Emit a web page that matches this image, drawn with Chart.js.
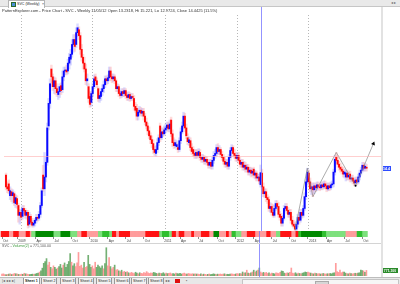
<!DOCTYPE html>
<html><head><meta charset="utf-8">
<script src="https://cdn.jsdelivr.net/npm/chart.js@4.4.1/dist/chart.umd.min.js"></script>
<style>
html,body{margin:0;padding:0;background:#fff;width:400px;height:284px;overflow:hidden;font-family:"Liberation Sans",Arial,sans-serif;}
.abs{position:absolute;}
#tabbar{left:0;top:0;width:400px;height:7px;background:#e9e9e9;border-bottom:1px solid #c6c6c6;box-sizing:border-box;}
#tab{left:8px;top:0;width:37px;height:8px;background:#fff;border:1px solid #b5b5b5;border-bottom:none;box-sizing:border-box;font-size:3.6px;line-height:6px;color:#222;white-space:nowrap;z-index:4;}
#tab .ic{display:inline-block;width:3px;height:3px;margin:0 1px 0 2px;background:#4a8fd8;border:0.5px solid #2a6a2a;vertical-align:middle;}
#tab .x{position:absolute;left:33px;top:0;color:#333;}
#tr{left:391px;top:0;font-size:3.6px;line-height:6px;color:#666;}
#title{left:2px;top:9px;font-size:4px;line-height:4.5px;color:#333;white-space:nowrap;z-index:5;}
canvas{position:absolute;left:0;}
#price{top:7px;z-index:1;}
#strip{top:231px;z-index:2;}
#sep{left:0;top:243px;width:381px;height:0;border-top:1px solid #d4d4d4;z-index:3;}
#vol{top:244px;z-index:2;}
#vlabel{left:2px;top:244px;font-size:3.6px;line-height:4.5px;color:#555;white-space:nowrap;z-index:5;}
#rborder{left:381px;top:7px;width:2px;height:270px;background:#e2e2e2;z-index:3;}
#bottom{left:0;top:277px;width:400px;height:7px;background:#e8e8e8;border-top:1px solid #bdbdbd;box-sizing:border-box;font-size:3.6px;line-height:6px;color:#222;z-index:6;}
#bottom span{position:absolute;top:0;white-space:nowrap;}
#bottom .sh{border-left:0.5px solid #999;border-right:0.5px solid #999;padding:0 1px;background:#f2f2f2;}
#bottom .act{background:#fff;font-weight:bold;}
#scroll{position:absolute;left:242px;top:1px;width:155px;height:4px;background:#f6f6f6;border:0.5px solid #c4c4c4;}
#thumb{position:absolute;left:72px;top:0.5px;width:12px;height:3px;background:#d6d6d6;border:0.5px solid #aaa;}
</style></head>
<body>
<div id="tabbar" class="abs"></div>
<div id="tab" class="abs"><span class="ic"></span>SVC (Weekly)<span class="x">×</span></div>
<div id="tr" class="abs">◂ ▸</div>
<div id="title" class="abs">PatternExplorer.com - Price Chart - SVC - Weekly 11/05/12 Open 13.2318, Hi 15.221, Lo 12.9724, Close 14.4425 (11.5%)</div>
<canvas id="price" width="400" height="230"></canvas>
<canvas id="strip" width="400" height="12"></canvas>
<div id="sep" class="abs"></div>
<canvas id="vol" width="400" height="33"></canvas>
<div id="vlabel" class="abs">SVC - <span style="color:#3c9a3c">Volume(2)</span> = 771,100.00</div>
<div id="rborder" class="abs"></div>
<div id="bottom" class="abs">
  <span style="left:2px;color:#555">|◂ ◂ ▸ ▸|</span>
  <span class="sh act" style="left:23px">Sheet 1</span>
  <span class="sh" style="left:41px">Sheet 2</span>
  <span class="sh" style="left:60px">Sheet 3</span>
  <span class="sh" style="left:78px">Sheet 4</span>
  <span class="sh" style="left:96px">Sheet 5</span>
  <span class="sh" style="left:114px">Sheet 6</span>
  <span class="sh" style="left:131px">Sheet 7</span>
  <span class="sh" style="left:148px">Sheet 8</span>
  <span style="left:165px;color:#555">◂ ▸</span>
  <span style="left:175px;top:1px;width:5px;height:4px;background:#e01010;"></span>
  <span style="left:186px;color:#555">▪</span>
  <div id="scroll"><div id="thumb"></div></div>
</div>
<script>
// ---- data (weekly bars, first bar 2008-10-17) ----
const firstBarDate = '2008-10-17';
const tickDates = ['2008-10-01','2009-01-01','2009-04-01','2009-07-01','2009-10-01','2010-01-01','2010-04-01','2010-07-01','2010-10-01','2011-01-01','2011-04-01','2011-07-01','2011-10-01','2012-01-01','2012-04-01','2012-07-01','2012-10-01','2013-01-01','2013-04-01','2013-07-01','2013-10-01'];
const tickLabels = ['Oct','2009','Apr','Jul','Oct','2010','Apr','Jul','Oct','2011','Apr','Jul','Oct','2012','Apr','Jul','Oct','2013','Apr','Jul','Oct'];

const opens = [
14.2,13.0,13.3,12.1,12.5,12.1,12.3,11.3,11.8,11.1,
10.1,10.4,10.0,10.8,10.6,10.1,10.4,9.2,10.0,9.4,
9.1,9.3,9.6,9.9,9.8,10.2,11.1,14.2,12.8,14.0,
15.5,19.2,21.5,25.0,24.2,23.2,23.8,23.0,22.4,22.7,
23.3,22.9,24.2,24.8,24.9,24.8,25.6,26.0,26.5,27.5,
28.0,27.5,28.7,29.0,28.4,27.0,26.2,25.6,25.0,23.8,
23.2,22.2,21.6,22.5,23.2,24.2,23.8,23.0,22.0,22.2,
22.7,23.0,23.4,24.0,23.8,24.1,24.8,24.2,24.0,24.2,
23.8,23.0,23.2,22.5,22.3,22.7,22.5,22.8,22.3,22.1,
22.4,22.0,22.2,22.0,21.2,21.0,20.2,20.6,20.8,20.5,
20.7,20.2,19.6,19.2,18.7,18.2,17.8,17.4,16.8,16.4,
16.8,17.5,19.2,18.0,18.6,18.4,18.8,19.0,19.3,18.9,
19.8,18.4,17.5,17.2,
17.1,17.0,16.8,17.7,18.6,19.2,
20.2,19.0,18.0,17.5,17.7,17.0,16.8,16.4,16.2,16.5,
16.2,16.5,16.0,15.8,16.0,15.6,15.8,15.5,15.2,15.5,
15.1,15.7,16.2,16.4,17.0,16.6,16.8,16.3,16.0,15.6,
15.3,15.5,15.1,16.0,16.7,17.0,16.4,16.2,15.9,16.2,
15.7,15.3,15.5,15.0,15.2,14.8,15.0,14.5,14.7,14.4,
14.8,14.2,14.4,13.9,14.0,13.2318,14.4,13.0,12.3,12.5,
11.9,11.7,10.8,11.0,10.4,10.1,10.8,11.3,11.0,10.2,
10.0,9.3,9.8,10.8,11.0,10.6,10.2,10.4,9.6,9.2,
9.0,8.7,9.2,9.9,9.6,10.4,10.1,10.8,12.0,13.5,
14.4,13.5,12.8,13.0,12.7,13.1,12.9,13.2,13.0,12.9,
13.2,13.0,13.3,13.1,12.8,13.1,12.9,13.2,13.3,14.5,
16.0,15.7,15.3,15.0,14.8,14.6,14.3,14.0,14.4,14.0,
14.3,13.8,13.9,13.6,13.4,13.7,13.5,14.0,14.4,14.7,
15.2,14.9,15.0];

const highs = [
14.4,13.5,13.7,13.0,12.8,12.7,12.5,12.2,12.1,11.3,
10.7,10.6,11.1,11.1,10.8,10.6,10.6,10.4,10.2,9.8,
9.6,9.8,10.2,10.2,10.5,11.4,12.9,15.2,16.5,16.0,
19.5,22.0,24.0,25.4,24.5,24.2,24.1,23.5,23.2,23.5,
23.6,24.8,25.2,25.2,25.4,26.0,26.6,27.0,28.0,28.5,
28.5,29.2,29.6,29.3,28.7,27.5,26.5,26.2,25.5,24.5,
23.5,22.7,22.7,23.6,24.4,24.5,24.1,23.2,22.5,23.0,
23.4,23.8,24.3,24.3,24.4,25.2,25.2,24.5,24.5,24.4,
24.0,23.5,23.4,22.8,23.0,23.0,23.1,23.0,22.6,22.7,
22.6,22.5,22.5,22.3,21.6,21.4,21.0,21.2,21.1,21.0,
21.0,20.5,20.0,19.5,19.1,18.5,18.2,17.8,17.1,17.2,
17.9,18.3,19.5,19.0,19.0,19.2,19.4,19.6,19.6,19.8,
20.1,18.8,18.0,17.8,
17.7,17.4,18.0,19.0,19.6,20.6,
20.5,19.4,18.4,18.1,18.0,17.4,17.1,16.8,16.8,16.8,
16.9,16.8,16.3,16.3,16.2,16.1,16.1,15.8,15.8,15.8,
16.0,16.6,16.8,17.3,17.4,17.2,17.0,16.6,16.3,16.0,
15.8,15.8,16.3,17.0,17.3,17.2,16.8,16.5,16.5,16.5,
16.0,15.8,15.8,15.6,15.5,15.3,15.3,15.0,15.0,14.9,
15.0,14.7,14.6,14.3,14.3,15.221,14.8,13.4,12.8,12.8,
12.2,12.0,11.4,11.3,11.2,11.1,11.6,11.6,11.4,10.5,
10.3,10.1,11.1,11.3,11.3,10.9,10.7,10.7,10.0,9.6,
9.4,9.5,10.2,10.4,10.7,10.7,11.1,12.4,13.8,14.9,
14.7,13.9,13.4,13.4,13.4,13.4,13.5,13.5,13.3,13.5,
13.5,13.6,13.6,13.4,13.4,13.4,13.5,13.6,14.8,16.2,
16.5,16.2,15.6,15.4,15.1,15.0,14.8,14.7,14.7,14.5,
14.6,14.2,14.2,13.9,14.0,14.0,14.3,14.7,15.0,15.5,
15.5,15.4,15.3];

const lows = [
12.7,12.4,12.3,11.7,11.5,11.3,11.1,10.9,10.8,9.4,
9.2,9.6,9.7,10.3,9.8,9.7,8.8,8.9,9.1,8.9,
8.9,9.0,9.3,9.5,9.6,9.9,10.9,12.5,12.1,13.5,
15.2,18.8,21.0,23.6,22.8,22.5,22.4,22.2,21.9,22.1,
22.4,22.6,23.8,24.4,24.4,24.5,25.0,25.4,26.2,26.7,
26.8,27.2,28.3,28.0,26.5,25.8,25.0,24.7,23.4,23.3,
21.6,21.1,21.2,22.2,23.0,23.4,23.1,21.7,21.6,21.8,
22.3,22.6,23.1,23.4,23.5,23.8,23.8,23.6,23.7,23.5,
22.7,22.7,22.2,22.0,22.1,22.2,22.2,22.0,21.8,21.8,
21.7,21.8,21.8,20.8,20.6,19.8,19.8,20.3,20.2,20.2,
19.8,19.3,18.9,18.3,17.9,17.4,17.0,16.4,16.2,16.1,
16.5,17.2,17.6,17.8,18.1,18.2,18.5,18.7,18.6,18.6,
18.1,17.1,16.9,17.0,
16.8,16.5,16.6,17.4,18.4,18.9,
18.6,17.9,17.3,17.2,16.7,16.3,16.1,15.9,15.9,15.9,
16.0,15.7,15.5,15.5,15.3,15.3,15.2,14.9,14.9,14.8,
14.8,15.4,15.9,16.1,16.3,16.3,16.0,15.7,15.3,15.0,
15.0,14.8,14.8,15.7,16.4,16.1,15.9,15.6,15.6,15.4,
15.0,15.0,14.7,14.7,14.5,14.5,14.2,14.2,14.0,14.1,
13.9,13.8,13.6,13.6,13.3,12.9724,12.7,12.0,11.9,11.5,
11.3,10.5,10.4,10.1,9.9,9.9,10.6,10.7,9.9,9.6,
9.0,9.0,9.6,10.5,10.3,9.9,9.9,9.3,9.0,8.8,
8.5,8.5,8.9,9.2,9.4,9.8,9.9,10.6,11.7,13.2,
13.0,12.5,12.2,12.0,12.3,12.5,12.6,12.7,12.6,12.7,
12.7,12.8,12.8,12.5,12.6,12.6,12.7,12.9,13.0,14.2,
15.4,15.0,14.7,14.5,14.3,14.0,13.9,13.6,13.7,13.7,
13.5,13.5,13.3,13.1,13.1,13.2,13.3,13.7,14.2,14.5,
14.6,14.6,14.6];

const closes = [
13.0,12.8,12.6,12.6,12.1,12.4,11.4,11.9,11.2,10.1,
10.4,9.9,10.8,10.6,10.1,10.4,9.1,10.0,9.4,9.1,
9.3,9.6,9.9,9.8,10.2,11.1,12.6,12.8,14.0,15.5,
19.0,21.5,23.5,24.2,23.2,23.8,23.0,22.6,22.7,23.2,
22.8,24.2,24.8,24.9,24.7,25.6,26.2,26.5,27.5,28.0,
27.3,28.7,29.2,28.4,27.0,26.2,25.6,25.0,23.8,24.0,
22.0,21.4,22.5,23.2,24.0,23.8,23.4,22.0,22.3,22.7,
23.0,23.4,24.0,23.8,24.1,24.8,24.2,24.0,24.2,23.8,
23.0,23.2,22.5,22.3,22.7,22.5,22.8,22.3,22.1,22.4,
22.0,22.2,22.1,21.2,20.8,20.2,20.6,20.8,20.5,20.7,
20.2,19.6,19.2,18.7,18.2,17.8,17.4,16.8,16.5,16.8,
17.5,18.0,18.0,18.6,18.4,18.8,19.0,19.3,18.9,19.4,
18.4,17.5,17.2,17.5,
17.3,16.8,17.7,18.6,19.2,20.2,
19.0,18.2,17.6,17.8,17.0,16.6,16.4,16.2,16.5,16.2,
16.6,16.0,15.8,16.0,15.6,15.8,15.5,15.2,15.5,15.1,
15.7,16.2,16.4,17.0,16.6,16.8,16.3,16.0,15.6,15.3,
15.5,15.1,16.0,16.7,17.0,16.4,16.2,15.9,16.2,15.7,
15.3,15.5,15.0,15.2,14.8,15.0,14.5,14.7,14.4,14.6,
14.2,14.4,13.9,14.0,13.6,14.4425,13.0,12.3,12.5,11.9,
11.7,10.8,11.0,10.4,10.1,10.8,11.3,11.0,10.2,9.9,
9.3,9.8,10.8,11.0,10.6,10.2,10.4,9.6,9.2,9.0,
8.7,9.2,9.9,9.6,10.4,10.1,10.8,12.0,13.5,14.5,
13.5,12.8,13.0,12.7,13.1,12.9,13.2,13.0,12.9,13.2,
13.0,13.3,13.1,12.8,13.1,12.9,13.2,13.3,14.5,15.8,
15.7,15.3,15.0,14.8,14.6,14.3,14.5,14.4,14.0,14.2,
13.8,13.9,13.6,13.4,13.7,13.5,14.0,14.4,14.7,15.2,
14.9,15.1,14.9];

// weekly volume, thousands of shares
const volumes = [
250,300,200,180,220,260,300,200,250,350,300,280,220,200,260,240,380,300,250,220,200,230,260,240,280,350,
400,540,700,1080,1750,2000,2400,
1500,1900,1200,1000,1400,1200,950,1100,1300,1600,1100,1500,1800,1200,1600,2000,3100,1900,1400,1700,1300,1800,3250,1350,1500,1100,1900,1200,1300,2850,1600,1200,1400,1000,1900,1200,1500,1300,1100,1400,1000,1700,3900,1400,2550,1300,1000,1200,1500,800,900,700,600,800,550,650,500,600,
450,380,500,420,350,520,400,300,450,380,330,480,400,600,450,350,420,380,500,450,360,300,420,380,350,450,300,400,330,380,420,300,350,280,400,330,300,360,280,320,400,300,260,350,300,280,320,250,300,270,
250,220,300,200,260,230,180,240,280,200,220,300,250,200,260,230,280,220,250,300,200,240,220,260,300,250,230,280,320,300,
350,300,550,400,450,800,400,350,
450,550,800,550,700,800,1100,550,400,500,400,500,
350,450,300,400,350,300,450,400,350,500,700,650,400,350,450,400,500,
1100,
400,350,450,300,400,350,300,400,450,550,500,550,450,400,350,300,400,350,300,350,280,300,350,300,280,320,300,350,300,400,450,
1750,
600,500,800,450,550,550,400,350,300,400,350,300,330,380,350,400,450,800,750,700,500,771.1];

// trend strip: segment start week and state (3 dark green .. -2 red)
const stripStarts = [0,6,9,13,18,21,22,25,38,43,50,55,58,62,70,73,78,80,83,85,93,104,114,116,121,123,126,128,132,137,139,144,150,153,157,162,164,166,169,173,177,183,191,194,198,201,209,212,214,216,231,234,248,256,260];
const stripStates = [-2,-1,-2,-1,-2,-1,1,3,1,3,1,-1,-2,-1,1,2,1,-2,-1,-2,-1,-2,1,2,1,-2,-1,-2,-1,-2,-1,-2,-1,3,-1,-2,-1,2,1,-1,-2,-1,-2,-1,1,-2,-1,-2,2,3,2,1,-1,2,1];

// pattern zigzag (week, price)
const zigWeeks = [210,219,223,240,254,267];
const zigPrices = [8.6,14.9,12.0,16.5,13.1,17.4];

const cursorWeek = 185;
const cursorPrice = 16.1;
const lastPriceLabel = '14.4';
const lastVolumeLabel = '771,100';

// ---- build ----
Chart.defaults.font.family = '"Liberation Sans", Arial, sans-serif';
const DAY = 864e5;
const t0 = Date.parse(firstBarDate);
const tickWeeks = tickDates.map(d => Math.max(0, Math.ceil((Date.parse(d) - t0) / (7 * DAY))));
const isYear = i => /^\d{4}$/.test(tickLabels[i] || '');
const idx = closes.map((_, j) => j);
const up = closes.map((c, j) => c >= opens[j]);
const palette = {'3':'#008a00','2':'#30bf30','1':'#7ee07e','-1':'#ff9d9d','-2':'#ff1414'};
const stripColor = j => { let s = stripStates[0]; for (let k = 0; k < stripStarts.length; k++) if (stripStarts[k] <= j) s = stripStates[k]; return palette[String(s)]; };

const X_MIN = -1.44, X_MAX = 272.5;
const xBase = () => ({type:'linear', min:X_MIN, max:X_MAX, offset:false,
  afterBuildTicks: s => { s.ticks = tickWeeks.map(v => ({value:v})); }});
const common = {responsive:false, animation:false, events:[], devicePixelRatio:1,
  plugins:{legend:{display:false}, tooltip:{enabled:false}}};

function cursorPlugin(withH){
  return {id:'cursor'+(withH?'H':''), afterDatasetsDraw(chart){
    const {ctx, chartArea, scales} = chart;
    ctx.save();
    if (withH){
      const py = Math.round(scales.y.getPixelForValue(cursorPrice)) + 0.5;
      ctx.strokeStyle = 'rgba(255,175,175,0.6)'; ctx.lineWidth = 1;
      ctx.beginPath(); ctx.moveTo(chartArea.left, py); ctx.lineTo(chartArea.right, py); ctx.stroke();
    }
    const px = Math.round(scales.x.getPixelForValue(cursorWeek)) + 0.5;
    ctx.strokeStyle = 'rgba(120,120,255,0.8)'; ctx.lineWidth = 1;
    ctx.beginPath(); ctx.moveTo(px, 0); ctx.lineTo(px, chart.height); ctx.stroke();
    ctx.restore();
  }};
}
const priceTag = {id:'priceTag', afterDraw(chart){
  const {ctx, chartArea, scales:{y}} = chart;
  const py = Math.round(y.getPixelForValue(closes[closes.length-1]) - 2.5);
  ctx.save(); ctx.fillStyle = '#2e4cff'; ctx.fillRect(chartArea.right + 1, py, 9, 5);
  ctx.fillStyle = '#fff'; ctx.font = 'bold 3.6px "Liberation Sans"'; ctx.textAlign = 'center'; ctx.textBaseline = 'middle';
  ctx.fillText(lastPriceLabel, chartArea.right + 5.5, py + 2.7); ctx.restore();
}};
const volTag = {id:'volTag', afterDraw(chart){
  const {ctx, chartArea, scales:{y}} = chart;
  const py = Math.round(y.getPixelForValue(volumes[volumes.length-1]) - 2.5);
  ctx.save(); ctx.fillStyle = '#2a8a2a'; ctx.fillRect(chartArea.right + 1, py, 16, 5);
  ctx.fillStyle = '#fff'; ctx.font = 'bold 3.4px "Liberation Sans"'; ctx.textAlign = 'center'; ctx.textBaseline = 'middle';
  ctx.fillText(lastVolumeLabel, chartArea.right + 9, py + 2.7); ctx.restore();
}};

new Chart(document.getElementById('price'), {
  type:'bar',
  data:{datasets:[
    {type:'line', data: zigWeeks.map((w,i)=>({x:w, y:zigPrices[i]})), order:0,
     borderColor:'rgba(140,140,140,0.9)', borderWidth:0.8, fill:false, tension:0,
     pointRadius:[0,0,0,0,1,2.4], pointStyle:['circle','circle','circle','circle','circle','triangle'],
     pointRotation:[0,0,0,0,0,23], pointBackgroundColor:'#000', pointBorderColor:'#000', pointBorderWidth:0},
    {data: idx.map(j=>({x:j, y:[lows[j], highs[j]]})), order:2, grouped:false, barThickness:1.8,
     backgroundColor: up.map(u => u ? 'rgba(150,150,255,0.35)' : 'rgba(255,150,150,0.35)')},
    {data: idx.map(j=>({x:j, y:[opens[j], closes[j]]})), order:1, grouped:false, barThickness:1.3,
     backgroundColor: up.map(u => u ? '#0a0aff' : '#ff0a0a')}
  ]},
  options:{...common,
    layout:{padding:{top:8, right:19, left:0, bottom:0}},
    scales:{
      x:{...xBase(), ticks:{display:false},
         grid:{offset:false, drawTicks:false, lineWidth:1, color: c => isYear(c.index) ? 'rgba(175,175,175,0.9)' : 'rgba(0,0,0,0)'},
         border:{display:false, dash:[1,2]}},
      y:{type:'linear', min:8.3, max:30.5, display:false}
    }},
  plugins:[cursorPlugin(true), priceTag]
});

new Chart(document.getElementById('strip'), {
  type:'bar',
  data:{datasets:[{data: idx.map(j=>({x:j, y:[0,1]})), grouped:false, barThickness:2,
    backgroundColor: idx.map(stripColor)}]},
  options:{...common,
    layout:{padding:{top:0, right:19, left:0, bottom:0}},
    scales:{
      x:{...xBase(),
         grid:{offset:false, drawOnChartArea:false, drawTicks:true, tickLength:2, color:'#8a8a8a'},
         border:{display:false},
         ticks:{autoSkip:false, maxRotation:0, minRotation:0, align:'start', labelOffset:1, padding:0,
                color:'#444', font:{size:3.3}, callback:(v,i)=>tickLabels[i]}},
      y:{display:false, min:0, max:1}
    }},
  plugins:[cursorPlugin(false)]
});

new Chart(document.getElementById('vol'), {
  type:'bar',
  data:{datasets:[{data: idx.map(j=>({x:j, y:volumes[j]})), grouped:false, barThickness:1,
    backgroundColor: up.map(u => u ? 'rgba(70,150,70,0.75)' : 'rgba(255,140,140,0.85)')}]},
  options:{...common,
    layout:{padding:{top:3, right:19, left:0, bottom:1}},
    scales:{ x:{...xBase(), display:false}, y:{display:false, min:0, max:4000} }},
  plugins:[cursorPlugin(false), volTag]
});
</script>
</body></html>
